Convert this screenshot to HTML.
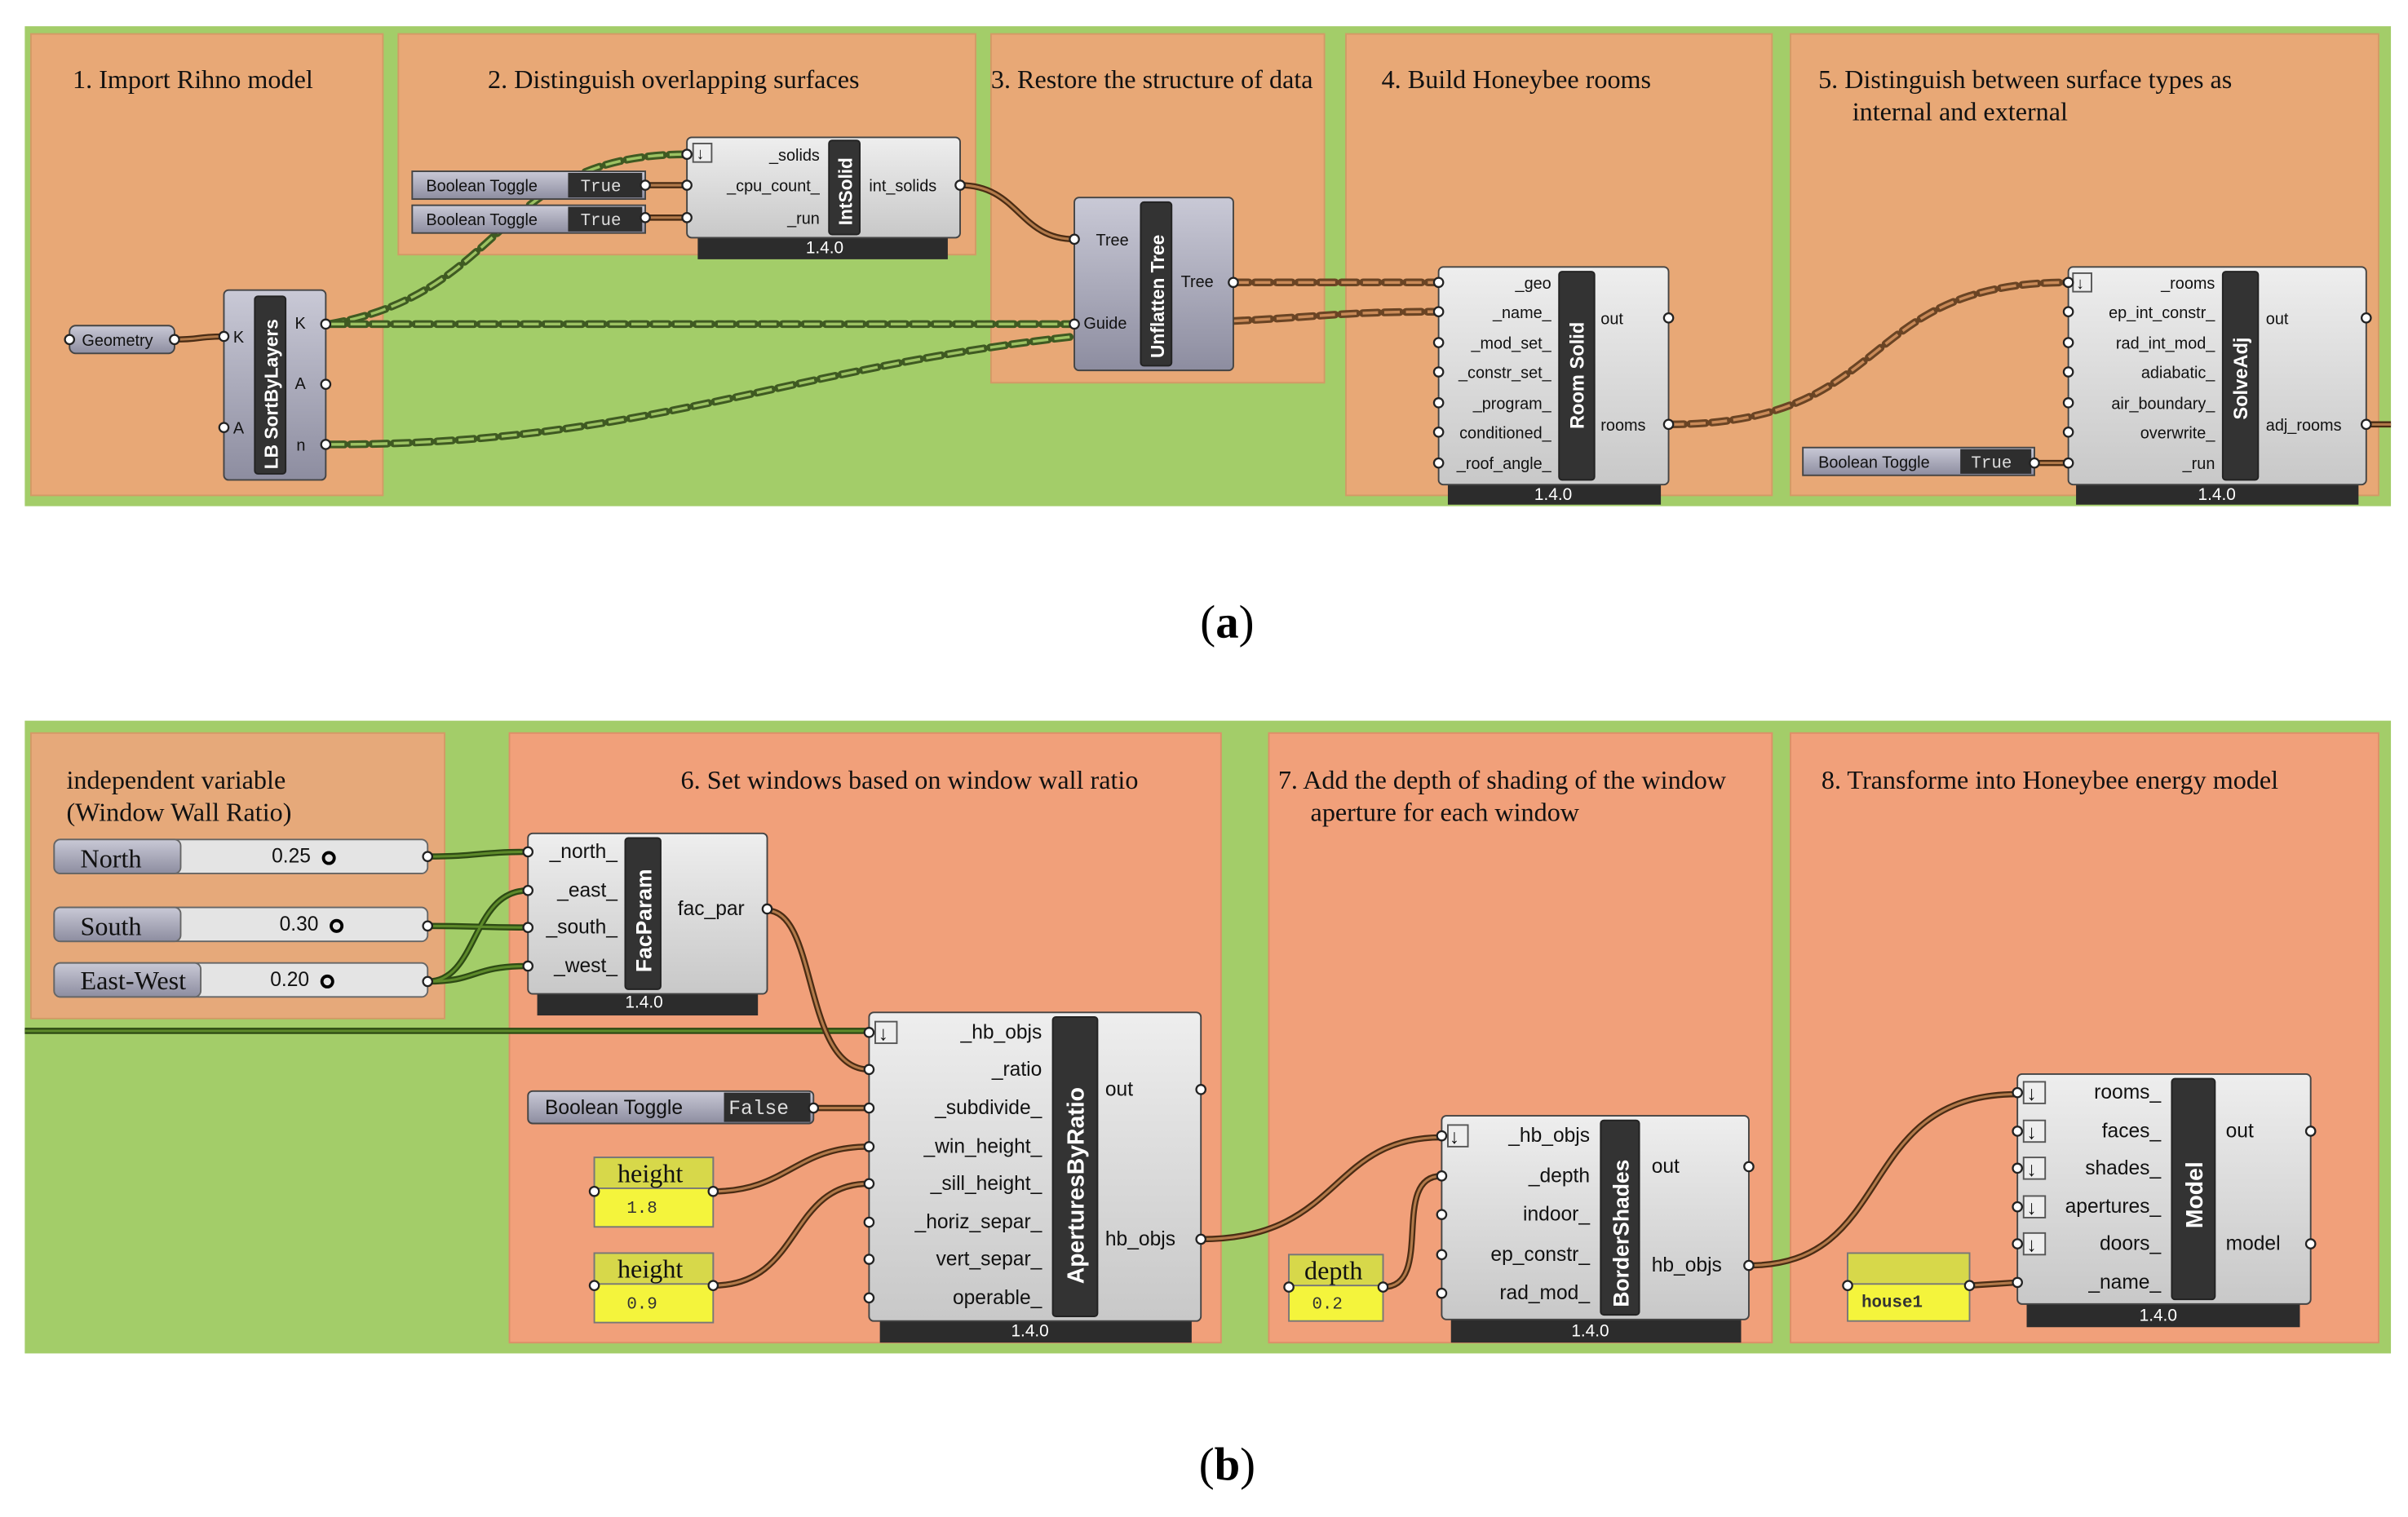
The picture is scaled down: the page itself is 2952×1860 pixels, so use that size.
<!DOCTYPE html>
<html><head><meta charset="utf-8"><style>
html,body{margin:0;padding:0;background:#fff;}
svg{display:block;}
.g{font-family:"Liberation Serif",serif;font-size:17px;fill:#111;}
.s{font-family:"Liberation Sans",sans-serif;font-size:10.5px;fill:#111;}
.sb{font-family:"Liberation Sans",sans-serif;font-size:13px;fill:#111;}
.v{font-family:"Liberation Sans",sans-serif;font-size:11px;fill:#fff;}
.t{font-family:"Liberation Sans",sans-serif;font-weight:bold;fill:#fff;}
.body{fill:url(#gr);stroke:#444;stroke-width:1;}
.strip{fill:#333;stroke:#222;}
.bar{fill:#2c2c2c;}
.port{fill:#fff;stroke:#222;stroke-width:1.2;}
.dO{fill:none;stroke:#3f5a22;stroke-width:5;stroke-dasharray:10 4;stroke-linecap:round;}
.dI{fill:none;stroke:#9cc262;stroke-width:1.8;stroke-dasharray:10 4;}
.dOb{fill:none;stroke:#6a4424;stroke-width:5;stroke-dasharray:10 4;stroke-linecap:round;}
.dIb{fill:none;stroke:#c98a58;stroke-width:1.8;stroke-dasharray:10 4;}
.wO{fill:none;stroke:#4a2c14;stroke-width:4;}
.wI{fill:none;stroke:#b27a4a;stroke-width:1.6;}
.gO{fill:none;stroke:#2d4a14;stroke-width:4;}
.gI{fill:none;stroke:#5d8a2a;stroke-width:1.6;}
</style></head><body>
<svg width="2952" height="1860" viewBox="0 0 1560 983" xmlns="http://www.w3.org/2000/svg">
<defs>
<linearGradient id="gr" x1="0" y1="0" x2="0" y2="1"><stop offset="0" stop-color="#eeeeee"/><stop offset="1" stop-color="#c8c8c8"/></linearGradient>
<linearGradient id="gb" x1="0" y1="0" x2="0" y2="1"><stop offset="0" stop-color="#c9c9d6"/><stop offset="1" stop-color="#8d8da0"/></linearGradient>
</defs>
<rect width="1560" height="983" fill="#fff"/>
<!-- (a) -->
<rect x="16" y="17" width="1533" height="311" fill="#a3cd69"/>
<g fill="#e8a876" stroke="#d39a66">
<rect x="20" y="22" width="228" height="299"/>
<rect x="258" y="22" width="374" height="143"/>
<rect x="642" y="22" width="216" height="226"/>
<rect x="872" y="22" width="276" height="299"/>
<rect x="1160" y="22" width="381" height="299"/>
</g>
<text class="g" x="47" y="57">1. Import Rihno model</text>
<text class="g" x="316" y="57">2. Distinguish  overlapping surfaces</text>
<text class="g" x="642" y="57">3. Restore the structure of data</text>
<text class="g" x="895" y="57">4. Build Honeybee rooms</text>
<text class="g" x="1178" y="57">5. Distinguish between surface types as</text>
<text class="g" x="1200" y="78">internal and external</text>

<!-- wires (a) -->
<path class="wO" d="M113 220 C130 220,128 218,145 218"/><path class="wI" d="M113 220 C130 220,128 218,145 218"/>
<path class="dO" d="M213 210 C330 190,320 100,445 100"/><path class="dI" d="M213 210 C330 190,320 100,445 100"/>
<path class="dO" d="M213 210 L696 210"/><path class="dI" d="M213 210 L696 210"/>
<path class="dO" d="M213 288 C420 288,500 240,696 218"/><path class="dI" d="M213 288 C420 288,500 240,696 218"/>
<path class="wO" d="M418 120 L445 120 M418 141 L445 141"/><path class="wI" d="M418 120 L445 120 M418 141 L445 141"/>
<path class="wO" d="M622 120 C660 120,660 155,696 155"/><path class="wI" d="M622 120 C660 120,660 155,696 155"/>
<path class="dOb" d="M799 183 L932 183 M799 208 C860 205,870 202,932 202"/><path class="dIb" d="M799 183 L932 183 M799 208 C860 205,870 202,932 202"/>
<path class="dOb" d="M1081 275 C1230 275,1200 183,1340 183"/><path class="dIb" d="M1081 275 C1230 275,1200 183,1340 183"/>
<path class="wO" d="M1318 300 L1340 300 M1533 275 L1549 275"/><path class="wI" d="M1318 300 L1340 300 M1533 275 L1549 275"/>

<!-- Geometry -->
<rect x="45" y="211" width="68" height="18" rx="4" fill="url(#gb)" stroke="#444"/>
<text class="s" x="53" y="224">Geometry</text>
<circle class="port" cx="45" cy="220" r="3"/><circle class="port" cx="113" cy="220" r="3"/>
<!-- SortByLayers -->
<rect x="145" y="188" width="66" height="123" rx="3" fill="url(#gb)" stroke="#444"/>
<rect class="strip" x="165" y="192" width="20" height="115" rx="2"/>
<text class="t" font-size="12" transform="translate(180,304) rotate(-90)">LB SortByLayers</text>
<text class="s" x="151" y="222">K</text><text class="s" x="151" y="281">A</text>
<text class="s" x="191" y="213">K</text><text class="s" x="191" y="252">A</text><text class="s" x="192" y="292">n</text>
<circle class="port" cx="145" cy="218" r="3"/><circle class="port" cx="145" cy="277" r="3"/>
<circle class="port" cx="211" cy="210" r="3"/><circle class="port" cx="211" cy="249" r="3"/><circle class="port" cx="211" cy="288" r="3"/>
<!-- Toggles -->
<rect x="267" y="111" width="151" height="18" fill="url(#gb)" stroke="#444"/><rect x="368" y="112" width="48" height="16" fill="#2e2e2e"/>
<text class="s" x="276" y="124">Boolean Toggle</text><text x="376" y="124" font-family="Liberation Mono" font-size="11" fill="#ddd">True</text>
<rect x="267" y="133" width="151" height="18" fill="url(#gb)" stroke="#444"/><rect x="368" y="134" width="48" height="16" fill="#2e2e2e"/>
<text class="s" x="276" y="146">Boolean Toggle</text><text x="376" y="146" font-family="Liberation Mono" font-size="11" fill="#ddd">True</text>
<circle class="port" cx="418" cy="120" r="3"/><circle class="port" cx="418" cy="141" r="3"/>
<!-- IntSolid -->
<rect class="bar" x="452" y="150" width="162" height="18"/><text class="v" x="522" y="164">1.4.0</text>
<rect class="body" x="445" y="89" width="177" height="65" rx="3"/>
<rect class="strip" x="537" y="91" width="20" height="61" rx="2"/>
<text class="t" font-size="12" transform="translate(552,146) rotate(-90)">IntSolid</text>
<rect x="449" y="93" width="12" height="12" fill="#eee" stroke="#555"/><text class="s" x="451" y="103">↓</text>
<text class="s" x="531" y="104" text-anchor="end">_solids</text><text class="s" x="531" y="124" text-anchor="end">_cpu_count_</text><text class="s" x="531" y="145" text-anchor="end">_run</text>
<text class="s" x="563" y="124">int_solids</text>
<circle class="port" cx="445" cy="100" r="3"/><circle class="port" cx="445" cy="120" r="3"/><circle class="port" cx="445" cy="141" r="3"/><circle class="port" cx="622" cy="120" r="3"/>
<!-- Unflatten -->
<rect x="696" y="128" width="103" height="112" rx="3" fill="url(#gb)" stroke="#444"/>
<rect class="strip" x="739" y="131" width="20" height="106" rx="2"/>
<text class="t" font-size="12" transform="translate(754,232) rotate(-90)">Unflatten Tree</text>
<text class="s" x="710" y="159">Tree</text><text class="s" x="702" y="213">Guide</text><text class="s" x="765" y="186">Tree</text>
<circle class="port" cx="696" cy="155" r="3"/><circle class="port" cx="696" cy="210" r="3"/><circle class="port" cx="799" cy="183" r="3"/>
<!-- RoomSolid -->
<rect class="bar" x="938" y="312" width="138" height="15"/><text class="v" x="994" y="324">1.4.0</text>
<rect class="body" x="932" y="173" width="149" height="141" rx="3"/>
<rect class="strip" x="1010" y="176" width="23" height="135" rx="2"/>
<text class="t" font-size="12.5" transform="translate(1026,278) rotate(-90)">Room Solid</text>
<g class="s" text-anchor="end"><text x="1005" y="187">_geo</text><text x="1005" y="206">_name_</text><text x="1005" y="226">_mod_set_</text><text x="1005" y="245">_constr_set_</text><text x="1005" y="265">_program_</text><text x="1005" y="284">conditioned_</text><text x="1005" y="304">_roof_angle_</text></g>
<text class="s" x="1037" y="210">out</text><text class="s" x="1037" y="279">rooms</text>
<g class="port"><circle cx="932" cy="183" r="3"/><circle cx="932" cy="202" r="3"/><circle cx="932" cy="222" r="3"/><circle cx="932" cy="241" r="3"/><circle cx="932" cy="261" r="3"/><circle cx="932" cy="280" r="3"/><circle cx="932" cy="300" r="3"/><circle cx="1081" cy="206" r="3"/><circle cx="1081" cy="275" r="3"/></g>
<!-- SolveAdj -->
<rect class="bar" x="1345" y="312" width="183" height="15"/><text class="v" x="1424" y="324">1.4.0</text>
<rect class="body" x="1340" y="173" width="193" height="141" rx="3"/>
<rect class="strip" x="1440" y="176" width="23" height="135" rx="2"/>
<text class="t" font-size="12.5" transform="translate(1456,272) rotate(-90)">SolveAdj</text>
<rect x="1343" y="177" width="12" height="12" fill="#eee" stroke="#555"/><text class="s" x="1345" y="187">↓</text>
<g class="s" text-anchor="end"><text x="1435" y="187">_rooms</text><text x="1435" y="206">ep_int_constr_</text><text x="1435" y="226">rad_int_mod_</text><text x="1435" y="245">adiabatic_</text><text x="1435" y="265">air_boundary_</text><text x="1435" y="284">overwrite_</text><text x="1435" y="304">_run</text></g>
<text class="s" x="1468" y="210">out</text><text class="s" x="1468" y="279">adj_rooms</text>
<g class="port"><circle cx="1340" cy="183" r="3"/><circle cx="1340" cy="202" r="3"/><circle cx="1340" cy="222" r="3"/><circle cx="1340" cy="241" r="3"/><circle cx="1340" cy="261" r="3"/><circle cx="1340" cy="280" r="3"/><circle cx="1340" cy="300" r="3"/><circle cx="1533" cy="206" r="3"/><circle cx="1533" cy="275" r="3"/></g>
<rect x="1168" y="290" width="150" height="18" fill="url(#gb)" stroke="#444"/><rect x="1270" y="291" width="46" height="16" fill="#2e2e2e"/>
<text class="s" x="1178" y="303">Boolean Toggle</text><text x="1277" y="303" font-family="Liberation Mono" font-size="11" fill="#ddd">True</text>
<circle class="port" cx="1318" cy="300" r="3"/>

<text x="795" y="413" text-anchor="middle" font-family="Liberation Serif" font-size="30" fill="#000">(<tspan font-weight="bold">a</tspan>)</text>

<!-- (b) -->
<rect x="16" y="467" width="1533" height="410" fill="#a3cd69"/>
<rect x="20" y="475" width="268" height="185" fill="#e6a97a" stroke="#d39a66"/>
<g fill="#f1a07a" stroke="#dc9068">
<rect x="330" y="475" width="461" height="395"/>
<rect x="822" y="475" width="326" height="395"/>
<rect x="1160" y="475" width="381" height="395"/>
</g>
<text class="g" x="43" y="511">independent variable</text>
<text class="g" x="43" y="532">(Window Wall Ratio)</text>
<text class="g" x="441" y="511">6. Set windows based on window wall ratio</text>
<text class="g" x="828" y="511">7. Add the depth of shading of the window</text>
<text class="g" x="849" y="532">aperture for each window</text>
<text class="g" x="1180" y="511">8. Transforme into Honeybee energy model</text>

<!-- wires (b) -->
<path class="gO" d="M16 668 L563 668"/><path class="gI" d="M16 668 L563 668"/>
<path class="gO" d="M277 555 C310 555,310 552,342 552 M277 600 C310 600,310 601,342 601 M277 636 C310 636,305 577,342 577 M277 636 C310 636,305 626,342 626"/>
<path class="gI" d="M277 555 C310 555,310 552,342 552 M277 600 C310 600,310 601,342 601 M277 636 C310 636,305 577,342 577 M277 636 C310 636,305 626,342 626"/>
<path class="wO" d="M497 590 C530 590,520 693,563 693"/><path class="wI" d="M497 590 C530 590,520 693,563 693"/>
<path class="wO" d="M527 718 L563 718 M462 772 C510 772,515 743,563 743 M462 833 C520 833,510 767,563 767 M896 834 C930 834,900 762,934 762 M1276 833 L1307 831"/>
<path class="wI" d="M527 718 L563 718 M462 772 C510 772,515 743,563 743 M462 833 C520 833,510 767,563 767 M896 834 C930 834,900 762,934 762 M1276 833 L1307 831"/>
<path class="wO" d="M778 803 C870 803,860 737,934 737 M1133 820 C1230 820,1200 709,1307 709"/>
<path class="wI" d="M778 803 C870 803,860 737,934 737 M1133 820 C1230 820,1200 709,1307 709"/>

<!-- sliders -->
<g>
<rect x="35" y="544" width="242" height="22" rx="4" fill="#e4e4e4" stroke="#666"/><rect x="35" y="544" width="82" height="22" rx="4" fill="url(#gb)" stroke="#666"/>
<text class="g" x="52" y="562" font-size="16">North</text><text class="sb" x="176" y="559">0.25</text><circle cx="213" cy="556" r="3.5" fill="none" stroke="#000" stroke-width="2"/>
<rect x="35" y="588" width="242" height="22" rx="4" fill="#e4e4e4" stroke="#666"/><rect x="35" y="588" width="82" height="22" rx="4" fill="url(#gb)" stroke="#666"/>
<text class="g" x="52" y="606" font-size="16">South</text><text class="sb" x="181" y="603">0.30</text><circle cx="218" cy="600" r="3.5" fill="none" stroke="#000" stroke-width="2"/>
<rect x="35" y="624" width="242" height="22" rx="4" fill="#e4e4e4" stroke="#666"/><rect x="35" y="624" width="95" height="22" rx="4" fill="url(#gb)" stroke="#666"/>
<text class="g" x="52" y="641" font-size="16">East-West</text><text class="sb" x="175" y="639">0.20</text><circle cx="212" cy="636" r="3.5" fill="none" stroke="#000" stroke-width="2"/>
<circle class="port" cx="277" cy="555" r="3"/><circle class="port" cx="277" cy="600" r="3"/><circle class="port" cx="277" cy="636" r="3"/>
</g>
<!-- FacParam -->
<rect class="bar" x="348" y="640" width="143" height="18"/><text class="v" x="405" y="653" font-size="12">1.4.0</text>
<rect class="body" x="342" y="540" width="155" height="104" rx="3"/>
<rect class="strip" x="405" y="543" width="23" height="98" rx="2"/>
<text class="t" font-size="14" transform="translate(422,630) rotate(-90)">FacParam</text>
<g class="sb" text-anchor="end" font-size="12"><text x="400" y="556">_north_</text><text x="400" y="581">_east_</text><text x="400" y="605">_south_</text><text x="400" y="630">_west_</text></g>
<text class="sb" x="439" y="593" font-size="12">fac_par</text>
<g class="port"><circle cx="342" cy="552" r="3"/><circle cx="342" cy="577" r="3"/><circle cx="342" cy="601" r="3"/><circle cx="342" cy="626" r="3"/><circle cx="497" cy="589" r="3"/></g>
<!-- ApertureByRatio -->
<rect class="bar" x="570" y="852" width="202" height="18"/><text class="v" x="655" y="866" font-size="12">1.4.0</text>
<rect class="body" x="563" y="656" width="215" height="200" rx="3"/>
<rect class="strip" x="682" y="659" width="29" height="194" rx="2"/>
<text class="t" font-size="15" transform="translate(702,832) rotate(-90)">AperturesByRatio</text>
<rect x="567" y="662" width="14" height="14" fill="#eee" stroke="#555"/><text class="sb" x="569" y="674">↓</text>
<g class="sb" text-anchor="end"><text x="675" y="673">_hb_objs</text><text x="675" y="697">_ratio</text><text x="675" y="722">_subdivide_</text><text x="675" y="747">_win_height_</text><text x="675" y="771">_sill_height_</text><text x="675" y="796">_horiz_separ_</text><text x="675" y="820">vert_separ_</text><text x="675" y="845">operable_</text></g>
<text class="sb" x="716" y="710">out</text><text class="sb" x="716" y="807">hb_objs</text>
<g class="port"><circle cx="563" cy="669" r="3"/><circle cx="563" cy="693" r="3"/><circle cx="563" cy="718" r="3"/><circle cx="563" cy="743" r="3"/><circle cx="563" cy="767" r="3"/><circle cx="563" cy="792" r="3"/><circle cx="563" cy="816" r="3"/><circle cx="563" cy="841" r="3"/><circle cx="778" cy="706" r="3"/><circle cx="778" cy="803" r="3"/></g>
<!-- toggle false -->
<rect x="342" y="707" width="185" height="21" rx="3" fill="url(#gb)" stroke="#444"/><rect x="469" y="708" width="56" height="19" fill="#2e2e2e"/>
<text class="sb" x="353" y="722">Boolean Toggle</text><text x="472" y="722" font-family="Liberation Mono" font-size="13" fill="#ddd">False</text>
<circle class="port" cx="527" cy="718" r="3"/>
<!-- height panels -->
<rect x="385" y="750" width="77" height="45" fill="#f4f43c" stroke="#777"/><rect x="385" y="750" width="77" height="20" fill="#d7d84a" stroke="#777"/>
<text class="g" x="400" y="766" font-size="16">height</text><text x="406" y="786" font-family="Liberation Mono" font-size="11" fill="#333">1.8</text>
<rect x="385" y="812" width="77" height="45" fill="#f4f43c" stroke="#777"/><rect x="385" y="812" width="77" height="20" fill="#d7d84a" stroke="#777"/>
<text class="g" x="400" y="828" font-size="16">height</text><text x="406" y="848" font-family="Liberation Mono" font-size="11" fill="#333">0.9</text>
<circle class="port" cx="385" cy="772" r="3"/><circle class="port" cx="462" cy="772" r="3"/><circle class="port" cx="385" cy="833" r="3"/><circle class="port" cx="462" cy="833" r="3"/>
<!-- depth -->
<rect x="835" y="813" width="61" height="43" fill="#f4f43c" stroke="#777"/><rect x="835" y="813" width="61" height="20" fill="#d7d84a" stroke="#777"/>
<text class="g" x="845" y="829" font-size="16">depth</text><text x="850" y="848" font-family="Liberation Mono" font-size="11" fill="#333">0.2</text>
<circle class="port" cx="835" cy="834" r="3"/><circle class="port" cx="896" cy="834" r="3"/>
<!-- BorderShades -->
<rect class="bar" x="940" y="852" width="188" height="18"/><text class="v" x="1018" y="866" font-size="12">1.4.0</text>
<rect class="body" x="934" y="723" width="199" height="132" rx="3"/>
<rect class="strip" x="1037" y="726" width="25" height="126" rx="2"/>
<text class="t" font-size="14" transform="translate(1055,847) rotate(-90)">BorderShades</text>
<rect x="938" y="729" width="13" height="14" fill="#eee" stroke="#555"/><text class="sb" x="939" y="741">↓</text>
<g class="sb" text-anchor="end"><text x="1030" y="740">_hb_objs</text><text x="1030" y="766">_depth</text><text x="1030" y="791">indoor_</text><text x="1030" y="817">ep_constr_</text><text x="1030" y="842">rad_mod_</text></g>
<text class="sb" x="1070" y="760">out</text><text class="sb" x="1070" y="824">hb_objs</text>
<g class="port"><circle cx="934" cy="736" r="3"/><circle cx="934" cy="762" r="3"/><circle cx="934" cy="787" r="3"/><circle cx="934" cy="813" r="3"/><circle cx="934" cy="838" r="3"/><circle cx="1133" cy="756" r="3"/><circle cx="1133" cy="820" r="3"/></g>
<!-- house1 -->
<rect x="1197" y="812" width="79" height="44" fill="#f4f43c" stroke="#777"/><rect x="1197" y="812" width="79" height="20" fill="#d7d84a" stroke="#777"/>
<text x="1206" y="847" font-family="Liberation Mono" font-size="11" font-weight="bold" fill="#333">house1</text>
<circle class="port" cx="1197" cy="833" r="3"/><circle class="port" cx="1276" cy="833" r="3"/>
<!-- Model -->
<rect class="bar" x="1313" y="842" width="177" height="18"/><text class="v" x="1386" y="856" font-size="12">1.4.0</text>
<rect class="body" x="1307" y="696" width="190" height="149" rx="3"/>
<rect class="strip" x="1407" y="699" width="28" height="143" rx="2"/>
<text class="t" font-size="15" transform="translate(1427,796) rotate(-90)">Model</text>
<g fill="#eee" stroke="#555"><rect x="1311" y="701" width="14" height="14"/><rect x="1311" y="726" width="14" height="14"/><rect x="1311" y="750" width="14" height="14"/><rect x="1311" y="775" width="14" height="14"/><rect x="1311" y="799" width="14" height="14"/></g>
<g class="sb"><text x="1313" y="713">↓</text><text x="1313" y="738">↓</text><text x="1313" y="762">↓</text><text x="1313" y="787">↓</text><text x="1313" y="811">↓</text></g>
<g class="sb" text-anchor="end"><text x="1400" y="712">rooms_</text><text x="1400" y="737">faces_</text><text x="1400" y="761">shades_</text><text x="1400" y="786">apertures_</text><text x="1400" y="810">doors_</text><text x="1400" y="835">_name_</text></g>
<text class="sb" x="1442" y="737">out</text><text class="sb" x="1442" y="810">model</text>
<g class="port"><circle cx="1307" cy="708" r="3"/><circle cx="1307" cy="733" r="3"/><circle cx="1307" cy="757" r="3"/><circle cx="1307" cy="782" r="3"/><circle cx="1307" cy="806" r="3"/><circle cx="1307" cy="831" r="3"/><circle cx="1497" cy="733" r="3"/><circle cx="1497" cy="806" r="3"/></g>

<text x="795" y="959" text-anchor="middle" font-family="Liberation Serif" font-size="30" fill="#000">(<tspan font-weight="bold">b</tspan>)</text>
</svg>
</body></html>
